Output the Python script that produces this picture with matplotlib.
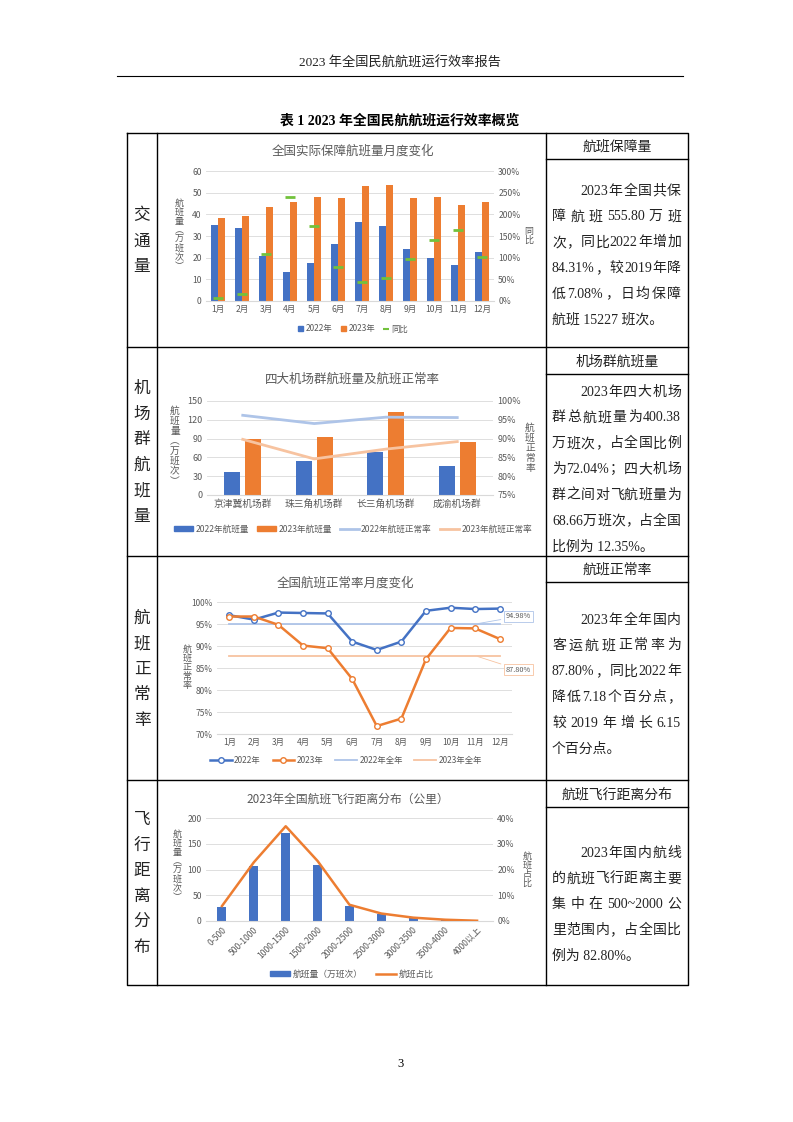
import re
import numpy as np
import matplotlib
matplotlib.use('Agg')
import matplotlib.pyplot as plt
from matplotlib.patches import Patch
from matplotlib.lines import Line2D

plt.rcParams['font.family'] = ['Noto Sans CJK SC', 'DejaVu Sans']
plt.rcParams['axes.unicode_minus'] = False

W, H = 793, 1122

# 交通量：月度航班量（万班次）与同比
months = [f'{i}月' for i in range(1, 13)]
flights_2022 = [35.0, 33.5, 21.0, 13.5, 17.5, 26.5, 36.3, 34.7, 24.0, 20.0, 16.8, 22.7]
flights_2023 = [38.2, 39.3, 43.5, 45.8, 48.2, 47.5, 53.0, 53.7, 47.5, 48.2, 44.5, 45.8]
yoy = [7, 17, 108, 241, 172, 78, 45, 53, 97, 141, 165, 101]

# 四大机场群
clusters = ['京津冀机场群', '珠三角机场群', '长三角机场群', '成渝机场群']
cluster_2022 = [36.6, 54.0, 68.4, 46.6]
cluster_2023 = [89.0, 93.3, 132.0, 85.3]
cluster_rate_2022 = [96.2, 94.0, 95.7, 95.6]
cluster_rate_2023 = [89.8, 84.6, 87.2, 89.2]

# 航班正常率（%）
rate_2022 = [97.0, 96.0, 97.6, 97.5, 97.4, 91.0, 89.1, 91.0, 98.0, 98.7, 98.4, 98.5]
rate_2023 = [96.7, 96.7, 94.8, 90.1, 89.5, 82.5, 71.8, 73.5, 87.0, 94.1, 94.0, 91.6]
annual_2022 = 94.98
annual_2023 = 87.80

# 飞行距离分布
distance_bins = ['0-500', '500-1000', '1000-1500', '1500-2000', '2000-2500',
                 '2500-3000', '3000-3500', '3500-4000', '4000以上']
distance_flights = [27.8, 106.0, 171.5, 109.0, 29.8, 13.6, 5.8, 2.0, 0.6]
distance_share = [5.8, 22.8, 36.8, 23.3, 6.3, 2.9, 1.3, 0.5, 0.1]

BLUE = '#4472c4'
ORANGE = '#ed7d31'
GREEN = '#72c23c'
LBLUE = '#aec4e8'
PEACH = '#f7c3a0'
GRAY = '#595959'
GRID = '#d9d9d9'

fig = plt.figure(figsize=(W / 100, H / 100), dpi=100)
page = fig.add_axes([0, 0, 1, 1])
page.set_xlim(0, W)
page.set_ylim(H, 0)
page.axis('off')

SERIF = ['Liberation Serif', 'Noto Sans CJK SC']


def px_axes(x0, y0, x1, y1):
    return fig.add_axes([x0 / W, 1 - y1 / H, (x1 - x0) / W, (y1 - y0) / H])


def style(ax, size=6.2):
    for s in ax.spines.values():
        s.set_visible(False)
    ax.spines['bottom'].set_visible(True)
    ax.spines['bottom'].set_color(GRID)
    ax.tick_params(length=0, labelsize=size, labelcolor=GRAY, pad=3)
    ax.yaxis.grid(True, color=GRID, lw=0.6)
    ax.set_axisbelow(True)
    ax.set_facecolor('none')


def style_twin(ax, size=6.2):
    for s in ax.spines.values():
        s.set_visible(False)
    ax.tick_params(length=0, labelsize=size, labelcolor=GRAY, pad=3)


def stacked(x, y, s, size=6.5, spacing=1.0):
    page.text(x, y, '\n'.join(s), ha='center', va='center', fontsize=size,
              color=GRAY, linespacing=spacing)


def legend(handles, x, y, size, **kw):
    fig.legend(handles=handles, loc='center', bbox_to_anchor=(x / W, 1 - y / H),
               ncol=len(handles), frameon=False, fontsize=size, labelcolor=GRAY, **kw)


# ---------------- 图1 ----------------
ax1 = px_axes(206, 171, 494, 301)
x = np.arange(12)
ax1.bar(x - 0.15, flights_2022, 0.28, color=BLUE)
ax1.bar(x + 0.15, flights_2023, 0.28, color=ORANGE)
ax1.set_xlim(-0.5, 11.5)
ax1.set_ylim(0, 60)
ax1.set_yticks(range(0, 61, 10))
ax1.set_xticks(x, months)
style(ax1)
ax1b = ax1.twinx()
ax1b.plot(x, yoy, ls='none', marker='_', ms=7, mew=2, color=GREEN)
ax1b.set_ylim(0, 300)
ax1b.set_yticks(range(0, 301, 50), [f'{v}%' for v in range(0, 301, 50)])
style_twin(ax1b)
page.text(353, 151, '全国实际保障航班量月度变化', ha='center', va='center', fontsize=9, color=GRAY)
stacked(179, 235, '航班量︵万班次︶')
stacked(529, 236, '同比')
legend([Patch(color=BLUE, label='2022年'), Patch(color=ORANGE, label='2023年'),
        Line2D([], [], ls='none', marker='_', ms=5, mew=1.5, color=GREEN, label='同比')],
       353, 329, 6, handlelength=0.6, handleheight=0.6, handletextpad=0.3, columnspacing=1.0)

# ---------------- 图2 ----------------
ax2 = px_axes(207, 401, 493, 495)
x = np.arange(4)
ax2.bar(x - 0.145, cluster_2022, 0.225, color=BLUE)
ax2.bar(x + 0.145, cluster_2023, 0.225, color=ORANGE)
ax2.set_xlim(-0.5, 3.5)
ax2.set_ylim(0, 150)
ax2.set_yticks(range(0, 151, 30))
ax2.set_xticks(x, clusters)
style(ax2, 6.5)
ax2.tick_params(axis='x', labelsize=7)
ax2b = ax2.twinx()
ax2b.plot(x, cluster_rate_2022, color=LBLUE, lw=2)
ax2b.plot(x, cluster_rate_2023, color=PEACH, lw=2)
ax2b.set_ylim(75, 100)
ax2b.set_yticks(range(75, 101, 5), [f'{v}%' for v in range(75, 101, 5)])
style_twin(ax2b, 6.5)
page.text(352, 379, '四大机场群航班量及航班正常率', ha='center', va='center', fontsize=9, color=GRAY)
stacked(175, 446, '航班量︵万班次︶', size=7)
stacked(530, 448, '航班正常率', size=7)
legend([Patch(color=BLUE, label='2022年航班量'), Patch(color=ORANGE, label='2023年航班量'),
        Line2D([], [], color=LBLUE, lw=2, label='2022年航班正常率'),
        Line2D([], [], color=PEACH, lw=2, label='2023年航班正常率')],
       353, 529, 6.2, handlelength=2.2, handleheight=0.5, handletextpad=0.3, columnspacing=0.9)

# ---------------- 图3 ----------------
ax3 = px_axes(217, 602, 512, 734)
x = np.arange(12)
ax3.plot(x, np.full(12, annual_2022), color=LBLUE, lw=1.3)
ax3.plot(x, np.full(12, annual_2023), color=PEACH, lw=1.3)
ax3.plot(x, rate_2022, color=BLUE, lw=1.8, marker='o', ms=4, mfc='white', mec=BLUE, mew=1)
ax3.plot(x, rate_2023, color=ORANGE, lw=1.8, marker='o', ms=4, mfc='white', mec=ORANGE, mew=1)
ax3.set_xlim(-0.5, 11.5)
ax3.set_ylim(70, 100)
ax3.set_yticks(range(70, 101, 5), [f'{v}%' for v in range(70, 101, 5)])
ax3.set_xticks(x, months)
style(ax3, 6)
ax3.annotate(f'{annual_2022:.2f}%', xy=(10, annual_2022), xytext=(22, 5.5),
             textcoords='offset points', fontsize=5.3, color=GRAY, ha='left', va='center',
             bbox=dict(boxstyle='square,pad=0.25', fc='white', ec=LBLUE, lw=0.6),
             arrowprops=dict(arrowstyle='-', color=LBLUE, lw=0.6))
ax3.annotate(f'{annual_2023:.2f}%', xy=(10, annual_2023), xytext=(22, -10),
             textcoords='offset points', fontsize=5.3, color=GRAY, ha='left', va='center',
             bbox=dict(boxstyle='square,pad=0.25', fc='white', ec=PEACH, lw=0.6),
             arrowprops=dict(arrowstyle='-', color=PEACH, lw=0.6))
page.text(345, 583, '全国航班正常率月度变化', ha='center', va='center', fontsize=9, color=GRAY)
stacked(187, 667, '航班正常率')
legend([Line2D([], [], color=BLUE, lw=1.8, marker='o', ms=4, mfc='white', mec=BLUE, label='2022年'),
        Line2D([], [], color=ORANGE, lw=1.8, marker='o', ms=4, mfc='white', mec=ORANGE, label='2023年'),
        Line2D([], [], color=LBLUE, lw=1.3, label='2022年全年'),
        Line2D([], [], color=PEACH, lw=1.3, label='2023年全年')],
       346, 760, 6, handlelength=2.6, handletextpad=0.3, columnspacing=1.4)

# ---------------- 图4 ----------------
ax4 = px_axes(206, 818, 493, 921)
x = np.arange(9)
ax4.bar(x, distance_flights, 0.28, color=BLUE)
ax4.set_xlim(-0.5, 8.5)
ax4.set_ylim(0, 200)
ax4.set_yticks(range(0, 201, 50))
ax4.set_xticks(x, distance_bins)
style(ax4)
for lab in ax4.get_xticklabels():
    lab.set_rotation(45)
    lab.set_ha('right')
    lab.set_va('top')
    lab.set_rotation_mode('anchor')
ax4b = ax4.twinx()
ax4b.plot(x, distance_share, color=ORANGE, lw=1.8)
ax4b.set_ylim(0, 40)
ax4b.set_yticks(range(0, 41, 10), [f'{v}%' for v in range(0, 41, 10)])
style_twin(ax4b)
page.text(348, 799, '2023年全国航班飞行距离分布（公里）', ha='center', va='center', fontsize=8.5, color=GRAY)
stacked(177, 866, '航班量︵万班次︶')
stacked(527, 870, '航班占比')
legend([Patch(color=BLUE, label='航班量（万班次）'),
        Line2D([], [], color=ORANGE, lw=1.8, label='航班占比')],
       352, 974, 6.3, handlelength=2.3, handleheight=0.5, handletextpad=0.3, columnspacing=1.5)

# ---------------- 页面与表格 ----------------
page.text(400, 63, '2023 年全国民航航班运行效率报告', ha='center', va='center',
          fontsize=9.5, family=SERIF, color='#222222')
page.plot([117, 683], [76, 76], color='black', lw=0.8)
page.text(400, 121, '表 1 2023 年全国民航航班运行效率概览', ha='center', va='center',
          fontsize=10, family=SERIF, fontweight='bold', color='black')
page.text(400, 1064, '3', ha='center', va='center', fontsize=9, family=SERIF)

top, bottom = 133, 985
left, c1, c2, right = 127, 157, 546, 688
rows = [133, 347, 556, 780, 985]
lw = 1.0
page.plot([left, right, right, left, left], [top, top, bottom, bottom, top], color='black', lw=lw)
page.plot([c1, c1], [top, bottom], color='black', lw=lw)
page.plot([c2, c2], [top, bottom], color='black', lw=lw)
for yy in rows[1:-1]:
    page.plot([left, right], [yy, yy], color='black', lw=lw)
sub_lines = [159, 374, 582, 807]
for yy in sub_lines:
    page.plot([c2, right], [yy, yy], color='black', lw=lw)

row_names = ['交通量', '机场群航班量', '航班正常率', '飞行距离分布']
for name, r0, r1 in zip(row_names, rows[:-1], rows[1:]):
    yc = (r0 + r1) / 2 + 1
    n = len(name)
    for i, ch in enumerate(name):
        page.text(142, yc + (i - (n - 1) / 2) * 25.5, ch, ha='center', va='center',
                  fontsize=12, color='#222222')

headers = ['航班保障量', '机场群航班量', '航班正常率', '航班飞行距离分布']
for h, r0, s in zip(headers, rows[:-1], sub_lines):
    page.text(617, (r0 + s) / 2 + 1, h, ha='center', va='center', fontsize=10,
              family=SERIF, color='#222222')

paragraphs = [
    (191, ['2023 年全国共保', '障航班 555.80 万班', '次，同比 2022 年增加',
           '84.31%，较 2019 年降', '低 7.08%，日均保障', '航班 15227 班次。']),
    (392, ['2023 年四大机场', '群总航班量为 400.38', '万班次，占全国比例',
           '为 72.04%；四大机场', '群之间对飞航班量为', '68.66 万班次，占全国',
           '比例为 12.35%。']),
    (620, ['2023 年全年国内', '客运航班正常率为', '87.80%，同比 2022 年',
           '降低 7.18 个百分点，', '较 2019 年增长 6.15', '个百分点。']),
    (853, ['2023 年国内航线', '的航班飞行距离主要', '集中在 500~2000 公',
           '里范围内，占全国比', '例为 82.80%。']),
]

renderer = fig.canvas.get_renderer()
tx0, tx1 = 552, 681
body_size = 10


def justify(line, x0, x1, y):
    tokens = re.findall(r'[0-9A-Za-z.%~]+|\S', line)
    widths = []
    for tok in tokens:
        t = page.text(0, 0, tok, fontsize=body_size, family=SERIF)
        widths.append(t.get_window_extent(renderer=renderer).width)
        t.remove()
    gap = (x1 - x0 - sum(widths)) / max(len(tokens) - 1, 1)
    xx = x0
    for tok, w in zip(tokens, widths):
        page.text(xx, y, tok, ha='left', va='center', fontsize=body_size,
                  family=SERIF, color='#222222')
        xx += w + gap


for y0, lines in paragraphs:
    for i, line in enumerate(lines):
        y = y0 + i * 25.8
        x0 = tx0 + 28 if i == 0 else tx0
        if i == len(lines) - 1:
            page.text(x0, y, line, ha='left', va='center', fontsize=body_size,
                      family=SERIF, color='#222222')
        else:
            justify(line, x0, tx1, y)

fig.savefig('out.png', dpi=100)
